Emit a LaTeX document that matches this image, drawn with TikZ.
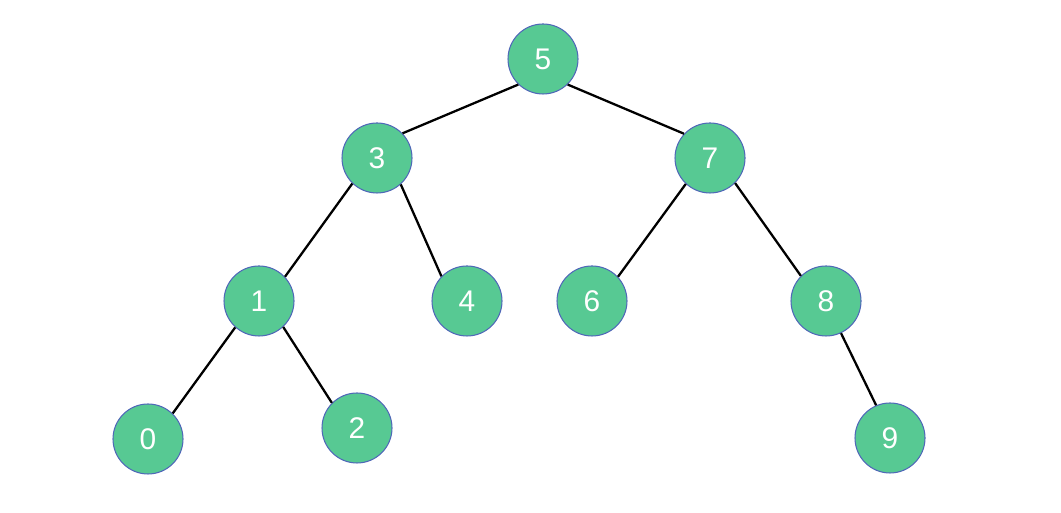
\documentclass[tikz,border=0pt]{standalone}
\usepackage{fontspec}
\setmainfont{Liberation Sans}
\usepackage{tikz}
\definecolor{treegreen}{HTML}{57C993}
\definecolor{treeblue}{HTML}{5068B8}

\begin{document}
\begin{tikzpicture}[
        vertex/.style={draw=treeblue, line width=0.6pt, fill=treegreen, circle, minimum size=1.4cm, inner sep=0pt, text=white, font=\fontsize{17}{19}\selectfont},
        edge/.style={line width=1.3pt}
    ]
        \useasboundingbox (0,0) rectangle (21.22,10.26);

        \node[vertex] (5) at (10.86,9.08) {5};
        \node[vertex] (3) at (7.54,7.10) {3};
        \node[vertex] (7) at (14.20,7.10) {7};
        \node[vertex] (1) at (5.18,4.24) {1};
        \node[vertex] (4) at (9.34,4.24) {4};
        \node[vertex] (6) at (11.84,4.24) {6};
        \node[vertex] (8) at (16.52,4.24) {8};
        \node[vertex] (0) at (2.96,1.48) {0};
        \node[vertex] (2) at (7.14,1.70) {2};
        \node[vertex] (9) at (17.80,1.50) {9};

        \draw[edge] (5.226) -- (3.44);
        \draw[edge] (5.314) -- (7.137);
        \draw[edge] (3.226) -- (1.43);
        \draw[edge] (3.312) -- (4.136);
        \draw[edge] (7.227) -- (6.43);
        \draw[edge] (7.315) -- (8.135);
        \draw[edge] (1.228) -- (0.46);
        \draw[edge] (1.313) -- (2.135);
        \draw[edge] (8.295) -- (9.113);
    \end{tikzpicture}
\end{document}
